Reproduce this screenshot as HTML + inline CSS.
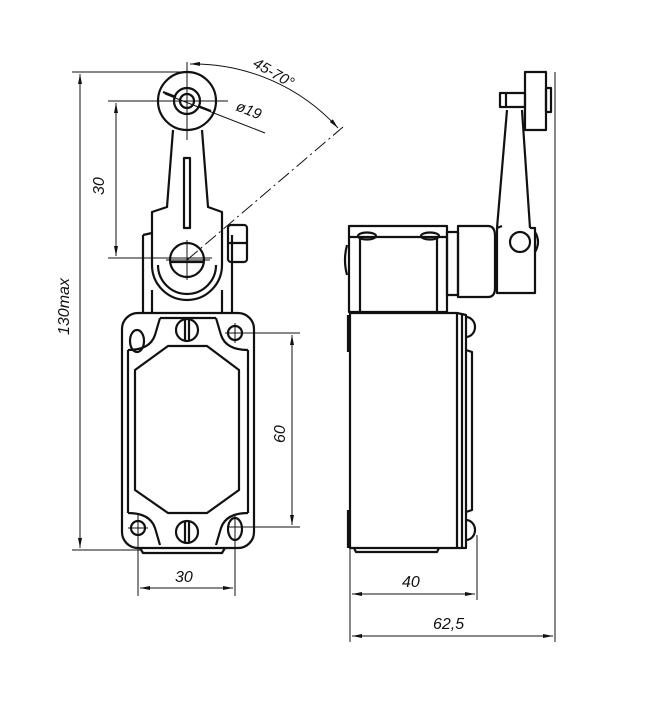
<!DOCTYPE html>
<html><head><meta charset="utf-8"><style>
html,body{margin:0;padding:0;background:#fff}
svg{display:block}
text{font-family:"Liberation Sans",sans-serif;font-style:italic;fill:#111}
</style></head><body>
<svg width="646" height="723" viewBox="0 0 646 723" xmlns="http://www.w3.org/2000/svg">
<defs>
<marker id="a" viewBox="0 0 10 4" refX="10" refY="2" markerWidth="10" markerHeight="4" orient="auto-start-reverse" markerUnits="userSpaceOnUse"><path d="M0,0 L10,2 L0,4z" fill="#111"/></marker>
</defs>
<g stroke="#111" fill="none">
<!-- thin dimension lines -->
<g stroke-width="1">
<line x1="72" y1="72" x2="190" y2="72"/>
<line x1="80" y1="74" x2="80" y2="548" marker-start="url(#a)" marker-end="url(#a)"/>
<line x1="72" y1="550" x2="140" y2="550"/>
<line x1="108" y1="101" x2="228" y2="101"/>
<line x1="108" y1="258" x2="212" y2="258"/>
<line x1="116" y1="103" x2="116" y2="256" marker-start="url(#a)" marker-end="url(#a)"/>
<line x1="187" y1="62" x2="187" y2="140"/>
<line x1="187" y1="240" x2="187" y2="280"/>
<line x1="166" y1="260" x2="210" y2="260"/>
<line x1="165" y1="94" x2="265" y2="133"/>
<path d="M190,64 A196,196 0 0 1 338,128" marker-start="url(#a)" marker-end="url(#a)"/>
<path d="M187,260 L343,127" stroke-dasharray="14,4,2,4"/>
<line x1="228" y1="333" x2="300" y2="333"/>
<line x1="228" y1="527" x2="300" y2="527"/>
<line x1="292" y1="335" x2="292" y2="525" marker-start="url(#a)" marker-end="url(#a)"/>
<line x1="138" y1="515" x2="138" y2="596"/>
<line x1="235" y1="515" x2="235" y2="596"/>
<line x1="140" y1="588" x2="233" y2="588" marker-start="url(#a)" marker-end="url(#a)"/>
<line x1="225" y1="333" x2="245" y2="333"/><line x1="235" y1="323" x2="235" y2="343"/>
<line x1="128" y1="528" x2="148" y2="528"/>
<line x1="555" y1="72" x2="555" y2="642"/>
<line x1="350" y1="548" x2="350" y2="642"/>
<line x1="477" y1="535" x2="477" y2="600"/>
<line x1="352" y1="594" x2="475" y2="594" marker-start="url(#a)" marker-end="url(#a)"/>
<line x1="352" y1="636" x2="553" y2="636" marker-start="url(#a)" marker-end="url(#a)"/>
</g>
<!-- left view thick -->
<g stroke-width="2.2" stroke-linejoin="round">
<circle cx="187" cy="101" r="29"/>
<circle cx="187" cy="101" r="13"/>
<circle cx="187" cy="101" r="7"/>
<line x1="163" y1="92" x2="176" y2="97"/><line x1="198" y1="106" x2="211" y2="111"/>
<path d="M173,130 L167,207 L152,212 L152,265 A35,35 0 0 0 222,265 L222,212 L208,207 L202,130"/>
<path d="M158,265 A29,29 0 0 0 216,265"/>
<rect x="184" y="158" width="6" height="70"/>
<circle cx="187" cy="260" r="17"/>
<line x1="171" y1="262" x2="203" y2="262"/>
<path d="M143,235 L152,233 M143,235 L143,312 M152,290 L152,312 M222,290 L222,312 M232,235 L232,312"/>
<rect x="228" y="225" width="19" height="37" rx="3"/>
<line x1="228" y1="243" x2="247" y2="243"/>
<rect x="122" y="313" width="132" height="235" rx="16"/>
<path d="M128,350 L128,513 M248,350 L248,513"/>
<path d="M128,350 Q150,350 155,335 L160,318 M248,350 Q226,350 221,335 L216,318 M160,318 L216,318"/>
<path d="M128,513 Q150,513 155,528 L160,545 M248,513 Q226,513 221,528 L216,545"/>
<path d="M168,346 L207,346 L239,370 L239,490 L207,513 L168,513 L135,490 L135,370 Z"/>
<ellipse cx="137" cy="341" rx="7" ry="11"/>
<circle cx="235" cy="333" r="7"/>
<circle cx="187" cy="330" r="11"/><line x1="185" y1="319" x2="185" y2="341"/><line x1="189" y1="319" x2="189" y2="341"/>
<circle cx="138" cy="528" r="7"/>
<ellipse cx="235" cy="529" rx="7" ry="11"/>
<circle cx="187" cy="532" r="11"/><line x1="185" y1="521" x2="185" y2="543"/><line x1="189" y1="521" x2="189" y2="543"/>
<path d="M140,548 L143,553 L222,553 L225,548"/>
</g>
<!-- right view thick -->
<g stroke-width="2.2" stroke-linejoin="round">
<rect x="349" y="226" width="98" height="86"/>
<path d="M360,237 L360,312 M437,237 L437,312 M349,237 L447,237"/>
<ellipse cx="367" cy="236" rx="9" ry="3.5"/><ellipse cx="430" cy="236" rx="9" ry="3.5"/>
<path d="M347,245 Q343,260 347,275"/>
<rect x="447" y="232" width="11" height="63"/>
<path d="M458,226 L488,226 Q495,226 495,236 L495,288 Q495,297 488,297 L458,297 Z"/>
<path d="M497,228 L507,110 M530,228 L522,110 M497,228 L497,293 L535,293 L535,228 L530,228 M497,228 L502,226"/>
<circle cx="520" cy="242" r="10"/>
<path d="M535,232 Q541,242 535,252"/>
<rect x="525" y="72" width="21" height="58"/>
<rect x="500" y="93" width="25" height="14"/>
<line x1="506" y1="93" x2="506" y2="107"/>
<rect x="546" y="88" width="5" height="24"/>
<rect x="350" y="313" width="107" height="235"/>
<path d="M457,313 L466,315 L466,548 L457,548 M466,350 L472,352 L472,510 L466,512"/>
<line x1="462" y1="313" x2="462" y2="548"/>
<path d="M466,317 A9,10 0 0 1 466,337 M466,520 A9,10 0 0 1 466,540"/>
<path d="M348,315 L348,352 M348,510 L348,548"/>
<path d="M354,548 L356,552 L437,552 L439,548"/>
</g>
</g>
<text transform="translate(252,66) rotate(30)" font-size="15">45-70°</text>
<text transform="translate(235,110) rotate(22)" font-size="15">ø19</text>
<text transform="translate(104,195) rotate(-90)" font-size="16">30</text>
<text transform="translate(69,335) rotate(-90)" font-size="16">130max</text>
<text transform="translate(285,443) rotate(-90)" font-size="16">60</text>
<text x="175" y="582" font-size="16">30</text>
<text x="402" y="587" font-size="16">40</text>
<text x="433" y="629" font-size="16">62,5</text>
</svg>
</body></html>
